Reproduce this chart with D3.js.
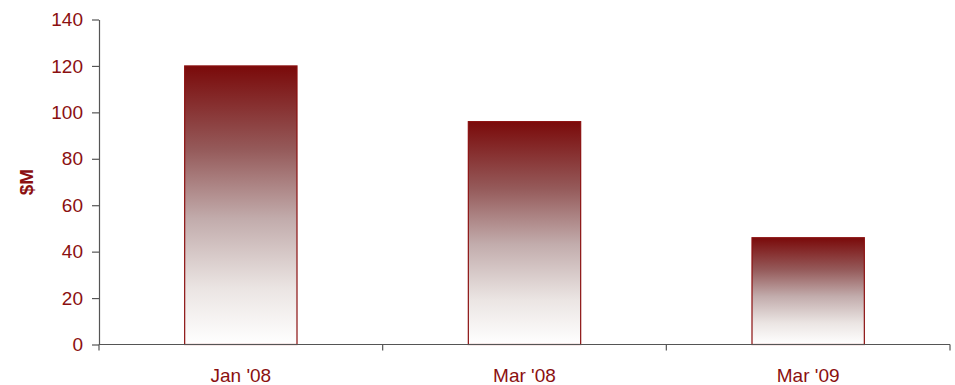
<!DOCTYPE html>
<html>
<head>
<meta charset="utf-8">
<script src="https://cdn.jsdelivr.net/npm/d3@7/dist/d3.min.js"></script>
<style>
  html, body { margin: 0; padding: 0; background: #fff; }
  svg { display: block; }
  text { font-family: "Liberation Sans", Arial, sans-serif; }
</style>
</head>
<body>
<svg id="chart" width="955" height="385"></svg>
<script>
// Funding by period, in $M
const categories = ["Jan '08", "Mar '08", "Mar '09"];
const values = [120, 96, 46];
const yTicks = [0, 20, 40, 60, 80, 100, 120, 140];

const textColor = "#8b1010";
const axisColor = "#555555";

const svg = d3.select("#chart");
const margin = { left: 99, right: 5, top: 19.5, bottom: 40.5 };
const W = 955, H = 385;

const x = d3.scaleBand()
  .domain(categories)
  .range([margin.left, W - margin.right])
  .paddingInner(0.604)
  .paddingOuter(0.302);

const y = d3.scaleLinear()
  .domain([0, 140])
  .range([H - margin.bottom, margin.top]);

// vertical gradient fill for the bars
const defs = svg.append("defs");
const grad = defs.append("linearGradient")
  .attr("id", "barGrad")
  .attr("x1", 0).attr("y1", 0).attr("x2", 0).attr("y2", 1);
[
  [0, "#7a0a0a"],
  [0.3, "#955a5a"],
  [0.55, "#c2acac"],
  [0.8, "#ebe5e3"],
  [1, "#ffffff"]
].forEach(([o, c]) => grad.append("stop").attr("offset", o).attr("stop-color", c));

// bars
svg.append("g")
  .selectAll("rect")
  .data(values)
  .join("rect")
  .attr("x", (d, i) => x(categories[i]))
  .attr("width", x.bandwidth())
  .attr("y", d => y(d))
  .attr("height", d => y(0) - y(d))
  .attr("fill", "url(#barGrad)")
  .attr("stroke", "#8b1010")
  .attr("stroke-width", 1.2);

// y axis
const yAxis = svg.append("g")
  .attr("transform", `translate(${margin.left},0)`)
  .call(d3.axisLeft(y).tickValues(yTicks).tickSize(7).tickPadding(9).tickSizeOuter(0));
yAxis.select(".domain").attr("stroke", axisColor).attr("stroke-width", 1.2);
yAxis.selectAll(".tick line").attr("stroke", axisColor).attr("stroke-width", 1.2);
yAxis.selectAll(".tick text")
  .attr("fill", textColor)
  .attr("font-size", 19);

// x axis: ticks at band boundaries
const tickXs = [margin.left]
  .concat(categories.slice(1).map(c => x(c) - x.step() * x.paddingInner() / 2))
  .concat([W - margin.right]);
const xg = svg.append("g").attr("transform", `translate(0,${y(0)})`);
xg.append("line")
  .attr("x1", margin.left).attr("x2", W - margin.right)
  .attr("stroke", axisColor).attr("stroke-width", 1.2);
xg.selectAll("line.tk")
  .data(tickXs)
  .join("line")
  .attr("class", "tk")
  .attr("x1", d => d).attr("x2", d => d)
  .attr("y1", 0).attr("y2", 6)
  .attr("stroke", axisColor).attr("stroke-width", 1.2);
xg.selectAll("text")
  .data(categories)
  .join("text")
  .attr("x", d => x(d) + x.bandwidth() / 2)
  .attr("y", 37.5)
  .attr("text-anchor", "middle")
  .attr("fill", textColor)
  .attr("font-size", 19)
  .text(d => d);

// y axis title
svg.append("text")
  .attr("transform", `translate(33,${(y(0) + y(140)) / 2}) rotate(-90)`)
  .attr("text-anchor", "middle")
  .attr("fill", textColor)
  .attr("font-size", 19)
  .attr("font-weight", "bold")
  .text("$M");
</script>
</body>
</html>
